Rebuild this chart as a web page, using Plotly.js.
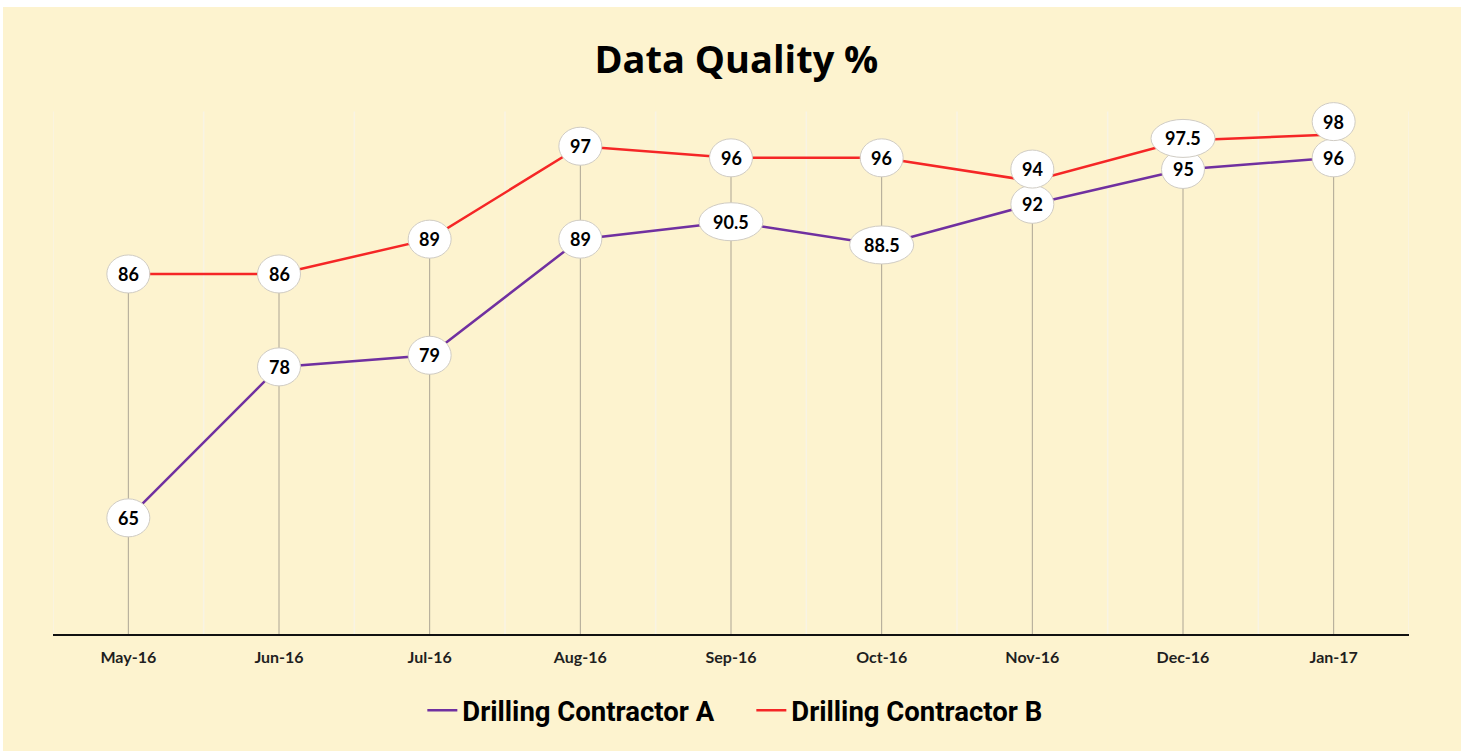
<!DOCTYPE html>
<html>
<head>
<meta charset="utf-8">
<script src="https://cdn.plot.ly/plotly-3.0.1.min.js"></script>
<style>
  html, body { margin: 0; padding: 0; background: #ffffff; }
  #chart { position: absolute; left: 3px; top: 7px; width: 1458px; height: 744px; }
</style>
</head>
<body>
<div id="chart"></div>
<script>
// ---- data ----
const months = ["May-16", "Jun-16", "Jul-16", "Aug-16", "Sep-16", "Oct-16", "Nov-16", "Dec-16", "Jan-17"];
const contractorA = [65, 78, 79, 89, 90.5, 88.5, 92, 95, 96];
const contractorB = [86, 86, 89, 97, 96, 96, 94, 97.5, 98];
const seriesNames = ["Drilling Contractor A", "Drilling Contractor B"];
const yMin = 55, yGridTop = 100, yMaxView = 105.2;

// ---- styles ----
const colorA = "#7030A0";
const colorB = "#F52626";
const labelFont = { family: "Lato, 'Open Sans', sans-serif", size: 18, color: "#000000", weight: 700 };
// pixel nudges of labels that Excel moved to avoid overlap (by series / category index)
const labelShift = { B: { 6: 12, 7: 2, 8: 13 }, A: {} };

// drop lines from the higher point down to the axis
const dropX = [], dropY = [];
months.forEach((m, i) => {
  dropX.push(m, m, m);
  dropY.push(Math.max(contractorA[i], contractorB[i]), yMin, null);
});

const traces = [
  { x: dropX, y: dropY, mode: "lines", line: { color: "#ADA594", width: 1 },
    showlegend: false, hoverinfo: "skip" },
  { x: months, y: contractorA, name: seriesNames[0], mode: "lines",
    line: { color: colorA, width: 2.5 }, hoverinfo: "skip" },
  { x: months, y: contractorB, name: seriesNames[1], mode: "lines",
    line: { color: colorB, width: 2.5 }, hoverinfo: "skip" }
];

const shapes = [], annotations = [];
// faint vertical gridlines at category boundaries
for (let i = 0; i <= months.length; i++) {
  shapes.push({
    type: "line", layer: "below", xref: "x", yref: "y",
    x0: i - 0.5, x1: i - 0.5, y0: yMin, y1: yGridTop,
    line: { color: "#F8F3E4", width: 1.5 }
  });
}
function addLabels(values, key) {
  values.forEach((v, i) => {
    const txt = String(v);
    const w = 22 + 10.5 * txt.length;
    const h = 38;
    const s = labelShift[key][i] || 0;
    shapes.push({
      type: "circle", layer: "above", xref: "x", yref: "y",
      xsizemode: "pixel", ysizemode: "pixel",
      xanchor: i, yanchor: v,
      x0: -w / 2, x1: w / 2, y0: -h / 2 + s, y1: h / 2 + s,
      fillcolor: "#FFFFFF", line: { color: "#D0CCC4", width: 1 }
    });
    annotations.push({
      x: i, y: v, xref: "x", yref: "y", text: txt, showarrow: false,
      yshift: s, font: labelFont
    });
  });
}
addLabels(contractorA, "A");
addLabels(contractorB, "B");

const layout = {
  width: 1458, height: 744,
  paper_bgcolor: "#FDF3CF",
  plot_bgcolor: "#FDF3CF",
  margin: { l: 50, r: 52, t: 44, b: 117 },
  title: {
    text: "<b>Data Quality %</b>",
    font: { family: "'Open Sans', Roboto, sans-serif", size: 38, color: "#000000" },
    x: 0.503, xref: "container", xanchor: "center",
    y: 0.929, yref: "container", yanchor: "middle"
  },
  xaxis: {
    type: "category",
    range: [-0.5, 8.5],
    showgrid: false,
    showline: true, linecolor: "#111111", linewidth: 2,
    ticks: "", ticklabelstandoff: 8,
    tickfont: { family: "Lato, sans-serif", size: 16, color: "#1F1F1F", weight: 700 },
    zeroline: false, fixedrange: true
  },
  yaxis: {
    range: [yMin, yMaxView],
    showgrid: false, showline: false, zeroline: false,
    showticklabels: false, ticks: "", fixedrange: true
  },
  showlegend: true,
  legend: {
    orientation: "h", x: 0.515, xanchor: "center", y: -0.131, yanchor: "middle",
    font: { family: "Roboto, sans-serif", size: 27.5, color: "#000000", weight: 700 },
    bgcolor: "rgba(0,0,0,0)", itemwidth: 30, entrywidth: 284, entrywidthmode: "pixels"
  },
  shapes: shapes,
  annotations: annotations,
  hovermode: false
};

Plotly.newPlot("chart", traces, layout, { displayModeBar: false, staticPlot: true });
</script>
</body>
</html>
